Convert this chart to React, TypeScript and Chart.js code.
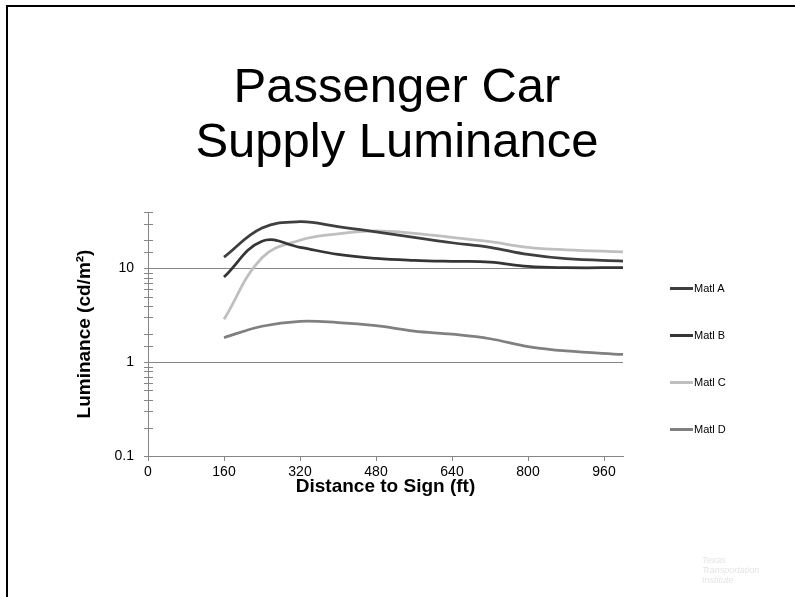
import React, { useEffect, useRef } from "react";
import { Chart, registerables } from "chart.js";

Chart.register(...registerables);

// ---- data ----
const titleLines = ["Passenger Car", "Supply Luminance"];
const xTitle = "Distance to Sign (ft)";
const yTitle = "Luminance (cd/m²)";
const distances = [160, 240, 320, 400, 480, 560, 640, 720, 800, 880, 1000];
const matlA = [13.2, 27.0, 31.5, 28.0, 24.5, 21.5, 18.8, 16.8, 14.1, 12.7, 12.0];
const matlB = [8.1, 19.5, 16.8, 14.1, 12.8, 12.2, 11.9, 11.7, 10.5, 10.2, 10.2];
const matlC = [2.87, 13.0, 20.0, 23.4, 25.2, 23.7, 21.5, 19.3, 16.8, 15.8, 15.0];
const matlD = [1.83, 2.42, 2.73, 2.65, 2.45, 2.15, 1.99, 1.78, 1.47, 1.32, 1.21];
const seriesNames = ["Matl A", "Matl B", "Matl C", "Matl D"];
const seriesValues = [matlA, matlB, matlC, matlD];
const seriesColors = ["#3f3f3f", "#353535", "#bfbfbf", "#808080"];
const xMin = 0;
const xMax = 1000;
const xStep = 160;
const yMin = 0.1;
const yMax = 40;
const yLabelValues = [0.1, 1, 10];
const logoLines = ["Texas", "Transportation", "Institute"];

const FONT = "'Liberation Sans', Arial, Helvetica, sans-serif";
const AXIS_GRAY = "#868686";

const crossTicks = {
  id: "crossTicks",
  afterDraw(chart: any) {
    const ys = chart.scales.y;
    const ctx = chart.ctx;
    const x0 = Math.round(chart.chartArea.left);
    ctx.save();
    ctx.strokeStyle = AXIS_GRAY;
    ctx.lineWidth = 1;
    ys.ticks.forEach((t: any) => {
      const py = Math.round(ys.getPixelForValue(t.value)) + 0.5;
      ctx.beginPath();
      ctx.moveTo(x0 - 4, py);
      ctx.lineTo(x0 + 5, py);
      ctx.stroke();
    });
    ctx.restore();
  },
};

function isLabelValue(v: number) {
  return yLabelValues.some((l) => Math.abs(l - v) < 1e-9);
}

export default function App() {
  const canvasRef = useRef<HTMLCanvasElement | null>(null);

  useEffect(() => {
    const canvas = canvasRef.current;
    if (!canvas) return;
    const chart = new Chart(canvas, {
      type: "line",
      data: {
        datasets: seriesNames.map((name, i) => ({
          label: name,
          data: distances.map((d, j) => ({ x: d, y: seriesValues[i][j] })),
          borderColor: seriesColors[i],
          backgroundColor: seriesColors[i],
          borderWidth: 2.75,
          pointRadius: 0,
          tension: 0.4,
          fill: false,
        })),
      },
      options: {
        responsive: false,
        animation: false,
        devicePixelRatio: 1,
        layout: { padding: { left: 0, right: 172, top: 212, bottom: 0 } },
        plugins: {
          legend: { display: false },
          title: { display: false },
          tooltip: { enabled: false },
        },
        scales: {
          x: {
            type: "linear",
            min: xMin,
            max: xMax,
            afterFit: (s: any) => {
              s.height = 141;
            },
            ticks: {
              stepSize: xStep,
              includeBounds: false,
              color: "#000",
              font: { family: FONT, size: 14 },
              padding: 3,
              maxRotation: 0,
            },
            grid: {
              drawOnChartArea: false,
              drawTicks: true,
              tickLength: 5,
              color: AXIS_GRAY,
            },
            border: { color: AXIS_GRAY, width: 1 },
            title: {
              display: true,
              text: xTitle,
              color: "#000",
              font: { family: FONT, size: 19, weight: "bold" },
              padding: { top: 0, bottom: 99 },
            },
          },
          y: {
            type: "logarithmic",
            min: yMin,
            max: yMax,
            afterFit: (s: any) => {
              s.width = 148;
            },
            ticks: {
              autoSkip: false,
              color: "#000",
              font: { family: FONT, size: 14 },
              padding: 14,
              callback: (v: any) => (isLabelValue(Number(v)) ? String(Number(v)) : ""),
            },
            grid: {
              drawTicks: false,
              color: (ctx: any) =>
                ctx.tick && isLabelValue(ctx.tick.value) && ctx.tick.value > yMin ? AXIS_GRAY : "rgba(0,0,0,0)",
            },
            border: { color: AXIS_GRAY, width: 1 },
            title: {
              display: true,
              text: yTitle,
              color: "#000",
              font: { family: FONT, size: 19, weight: "bold" },
              padding: { top: 73, bottom: 0 },
            },
          },
        },
      },
      plugins: [crossTicks],
    } as any);
    return () => chart.destroy();
  }, []);

  return (
    <div
      style={{
        position: "fixed",
        left: 0,
        top: 0,
        width: 795,
        height: 597,
        overflow: "hidden",
        background: "#fff",
        fontFamily: FONT,
      }}
    >
      <canvas ref={canvasRef} width={795} height={597} style={{ position: "absolute", left: 0, top: 0, display: "block" }} />
      <div
        style={{
          position: "absolute",
          left: 6,
          top: 5,
          width: 800,
          height: 600,
          borderLeft: "2px solid #000",
          borderTop: "2px solid #000",
          pointerEvents: "none",
        }}
      />
      <div
        style={{
          position: "absolute",
          left: 0,
          top: 58,
          width: 794,
          textAlign: "center",
          fontSize: 49,
          lineHeight: "55px",
          color: "#000",
        }}
      >
        {titleLines.map((t) => (
          <div key={t}>{t}</div>
        ))}
      </div>
      {seriesNames.map((name, i) => (
        <div
          key={name}
          style={{
            position: "absolute",
            left: 670,
            top: 288 + i * 47 - 7,
            height: 14,
            display: "flex",
            alignItems: "center",
            fontSize: 11,
            color: "#000",
          }}
        >
          <span style={{ display: "inline-block", width: 23, height: 3, background: seriesColors[i], marginRight: 1 }} />
          <span>{name}</span>
        </div>
      ))}
      <div
        style={{
          position: "absolute",
          left: 702,
          top: 555,
          fontSize: 9,
          lineHeight: "10px",
          fontStyle: "italic",
          color: "#e4e4e4",
        }}
      >
        {logoLines.map((t) => (
          <div key={t}>{t}</div>
        ))}
      </div>
    </div>
  );
}
